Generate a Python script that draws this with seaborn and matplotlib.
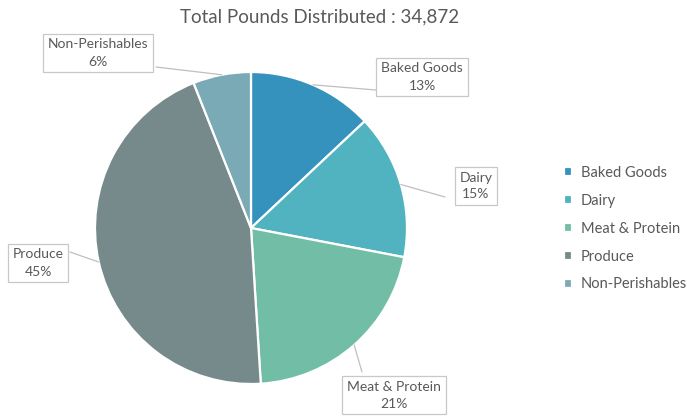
import numpy as np
import matplotlib
matplotlib.use("Agg")
import matplotlib.pyplot as plt
import seaborn as sns

categories = ["Baked Goods", "Dairy", "Meat & Protein", "Produce", "Non-Perishables"]
percent = [13, 15, 21, 45, 6]
colors = ["#3492BC", "#52B3C0", "#72BDA6", "#778A8B", "#7AAAB5"]
title = "Total Pounds Distributed : 34,872"

sns.set_theme(style="white")
plt.rcParams['font.family'] = ['Lato', 'DejaVu Sans']
palette = sns.color_palette(colors)

W, H = 687, 419
fig = plt.figure(figsize=(W / 100, H / 100), dpi=100)
ax = fig.add_axes([0, 0, 1, 1])

cx, cy, r = 251, H - 228, 156
wedges, _ = ax.pie(percent, colors=palette, startangle=90, counterclock=False,
                   center=(cx, cy), radius=r, frame=True,
                   wedgeprops=dict(edgecolor="white", linewidth=1.6))
ax.set_xlim(0, W)
ax.set_ylim(0, H)
ax.set_axis_off()

txtc = "#595959"
# label box centres (pixel coords from top) and leader line end points
boxes = {
    "Baked Goods": ((422, 77), (376, 90)),
    "Dairy": ((476, 186), (445, 197)),
    "Meat & Protein": ((394, 395), (362, 372)),
    "Produce": ((38, 263), (70, 252)),
    "Non-Perishables": ((98, 53), (156, 67)),
}
for w, cat, p in zip(wedges, categories, percent):
    ang = np.deg2rad((w.theta1 + w.theta2) / 2)
    px, py = cx + r * np.cos(ang), cy + r * np.sin(ang)
    (bx, by), (ex, ey) = boxes[cat]
    ax.plot([px, ex], [py, H - ey], color="#BFBFBF", lw=0.9, zorder=1)
    ax.text(bx, H - by, f"{cat}\n{p}%", ha="center", va="center", fontsize=10,
            color=txtc, linespacing=1.5, zorder=3,
            bbox=dict(boxstyle="square,pad=0.35", fc="white", ec="#C8C8C8", lw=0.9))

ax.text(320, H - 17, title, ha="center", va="center", fontsize=13.5, color=txtc)

leg = ax.legend(wedges, categories, loc="upper left", bbox_to_anchor=(564 / W, 1 - 166 / H),
                frameon=False, fontsize=10.5, handlelength=0.55, handleheight=0.55,
                handletextpad=0.6, labelspacing=0.95, borderaxespad=0, borderpad=0)
for t in leg.get_texts():
    t.set_color(txtc)

fig.savefig("out.png", dpi=100)
